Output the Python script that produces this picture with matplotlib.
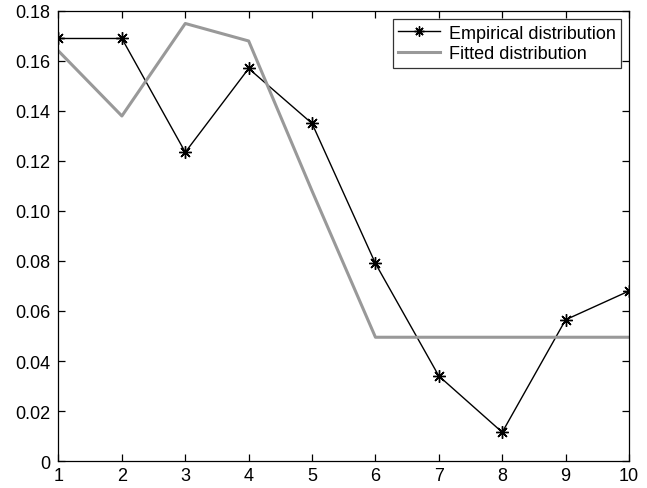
import matplotlib
matplotlib.use('Agg')
import matplotlib.pyplot as plt

x = [1, 2, 3, 4, 5, 6, 7, 8, 9, 10]
empirical = [0.169, 0.169, 0.1235, 0.157, 0.135, 0.079, 0.034, 0.0115, 0.0565, 0.068]
fitted = [0.164, 0.138, 0.175, 0.168, 0.108, 0.0495, 0.0495, 0.0495, 0.0495, 0.0495]
y_ticks = [0, 0.02, 0.04, 0.06, 0.08, 0.10, 0.12, 0.14, 0.16, 0.18]
y_labels = ['0', '0.02', '0.04', '0.06', '0.08', '0.10', '0.12', '0.14', '0.16', '0.18']

plt.rcParams['font.family'] = ['Liberation Sans', 'DejaVu Sans']

fig = plt.figure(figsize=(6.47, 4.89), dpi=100)
ax = fig.add_axes([0.0904, 0.0552, 0.8818, 0.9203])

ax.plot(x, empirical, color='black', lw=1.0, marker=(8, 2, 0), markersize=9,
        markeredgewidth=1.0, label='Empirical distribution')
ax.plot(x, fitted, color='#999999', lw=2.2, label='Fitted distribution')

ax.set_xlim(1, 10)
ax.set_ylim(0, 0.18)
ax.set_xticks(x)
ax.set_yticks(y_ticks)
ax.set_yticklabels(y_labels)
ax.tick_params(direction='in', top=True, right=True, labelsize=13, length=5, width=0.9)
ax.tick_params(axis='y', pad=6)
ax.tick_params(axis='x', pad=4)
for s in ax.spines.values():
    s.set_linewidth(0.9)

leg = ax.legend(loc='upper right', fontsize=13, frameon=True, fancybox=False,
                borderpad=0.3, labelspacing=0.2, handlelength=2.3, markerscale=0.8,
                handletextpad=0.5, borderaxespad=0.45)
leg.get_frame().set_edgecolor('black')
leg.get_frame().set_linewidth(0.9)

fig.savefig('out.png', dpi=100)
plt.close('all')
